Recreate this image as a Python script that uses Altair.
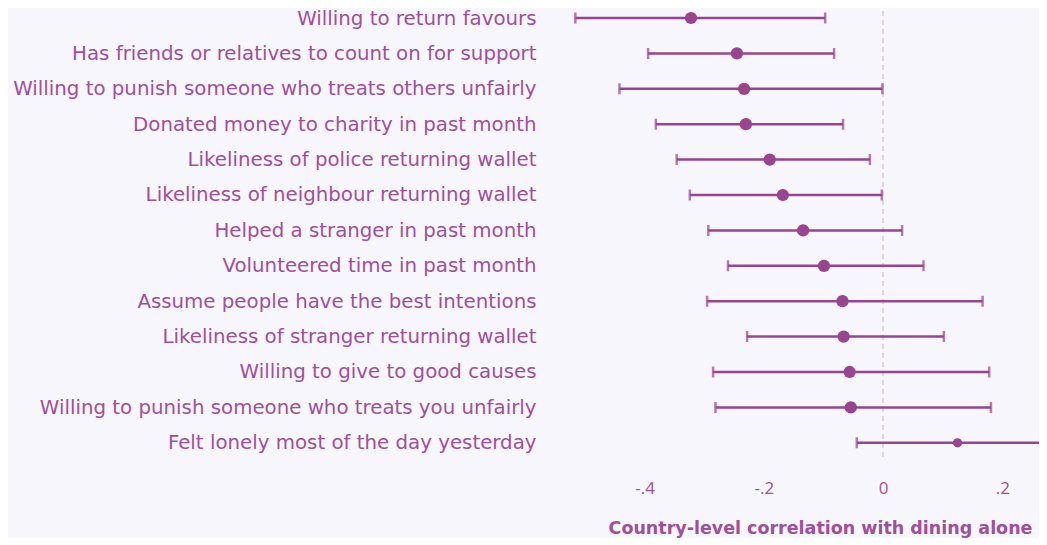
import altair as alt
import pandas as pd

labels = [
    "Willing to return favours",
    "Has friends or relatives to count on for support",
    "Willing to punish someone who treats others unfairly",
    "Donated money to charity in past month",
    "Likeliness of police returning wallet",
    "Likeliness of neighbour returning wallet",
    "Helped a stranger in past month",
    "Volunteered time in past month",
    "Assume people have the best intentions",
    "Likeliness of stranger returning wallet",
    "Willing to give to good causes",
    "Willing to punish someone who treats you unfairly",
    "Felt lonely most of the day yesterday",
]
estimate = [-0.322, -0.245, -0.233, -0.230, -0.190, -0.168, -0.134, -0.099, -0.068, -0.066, -0.056, -0.054, 0.125]
lower = [-0.516, -0.394, -0.442, -0.381, -0.346, -0.324, -0.293, -0.260, -0.295, -0.228, -0.285, -0.281, -0.044]
upper = [-0.097, -0.082, -0.001, -0.067, -0.022, -0.002, 0.032, 0.068, 0.167, 0.102, 0.178, 0.181, 0.294]
tick_values = [-0.4, -0.2, 0, 0.2]

df = pd.DataFrame({"label": labels, "est": estimate, "lo": lower, "hi": upper})

PURPLE = "#98448f"
TEXT = "#a04f9e"
FONT = "DejaVu Sans"
TITLE = "Country-level correlation with dining alone"

xscale = alt.Scale(domain=[-0.53, 0.2616], nice=False, zero=False)
xaxis = alt.Axis(
    values=tick_values,
    labelExpr="datum.value == 0 ? '0' : replace(replace(format(datum.value, '.1f'), '0.', '.'), '\u2212', '-')",
    labelFont="Open Sans", labelFontSize=17, labelColor=TEXT, labelPadding=28,
    ticks=False, domain=False, grid=False,
    titleFont=FONT, titleFontSize=17.5, titleFontWeight="bold", titleColor=TEXT,
    titleX=253, titleY=76, titleBaseline="middle", titleAlign="center",
)
yenc = alt.Y(
    "label:N", sort=labels,
    scale=alt.Scale(type="point", padding=0.2825),
    axis=alt.Axis(
        title=None, ticks=False, domain=False, grid=False,
        labelFont=FONT, labelFontSize=19.8, labelColor=TEXT, labelPadding=31,
        labelLimit=1000,
    ),
)

base = alt.Chart(df)

zero = base.mark_rule(color="#e0d2e6", strokeWidth=1.5, strokeDash=[5, 4]).encode(
    x=alt.datum(0, scale=xscale, axis=xaxis, title=TITLE),
    y=alt.value(-6), y2=alt.value(452),
)

bars = base.mark_rule(color=PURPLE, strokeWidth=2.5, clip=True).encode(
    x=alt.X("lo:Q", scale=xscale, axis=xaxis, title=TITLE),
    x2="hi:Q",
    y=yenc,
)

cap_lo = base.mark_tick(color=PURPLE, thickness=2.5, size=11, clip=True).encode(
    x=alt.X("lo:Q", scale=xscale, axis=xaxis, title=TITLE), y=yenc,
)
cap_hi = base.mark_tick(color=PURPLE, thickness=2.5, size=11, clip=True).encode(
    x=alt.X("hi:Q", scale=xscale, axis=xaxis, title=TITLE), y=yenc,
)

points = base.mark_circle(color=PURPLE, opacity=1).encode(
    x=alt.X("est:Q", scale=xscale, axis=xaxis, title=TITLE),
    y=yenc,
    size=alt.condition(alt.datum.label == "Felt lonely most of the day yesterday",
                       alt.value(85), alt.value(150)),
)

chart = alt.layer(zero, bars, cap_lo, cap_hi, points).properties(
    width=472, height=444.8,
    padding={"left": 559, "top": 0, "right": 0, "bottom": 85},
    autosize=alt.AutoSizeParams(type="none"),
    background="#f7f6fc",
).configure_view(stroke=None)

chart.save("out.html", embed_options={"renderer": "svg", "actions": False})
